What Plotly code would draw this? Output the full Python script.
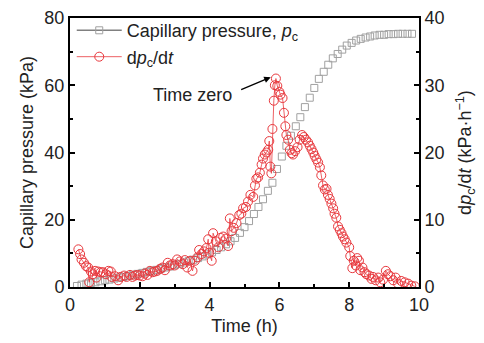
import plotly.graph_objects as go

# Capillary pressure (kPa), left axis
pc_time = [0.20, 0.33, 0.47, 0.60, 0.73, 0.87, 1.00, 1.13, 1.27, 1.40, 1.53, 1.67, 1.80, 1.93,
           2.07, 2.20, 2.33, 2.47, 2.60, 2.73, 2.87, 3.00, 3.13, 3.27, 3.40, 3.53, 3.67, 3.80,
           3.93, 4.07, 4.20, 4.33, 4.47, 4.60, 4.73, 4.87, 5.00, 5.13, 5.27, 5.40, 5.53, 5.67,
           5.80, 5.93, 6.07, 6.20, 6.33, 6.47, 6.60, 6.73, 6.87, 7.00, 7.13, 7.27, 7.40, 7.53,
           7.67, 7.80, 7.93, 8.07, 8.20, 8.33, 8.47, 8.60, 8.73, 8.87, 9.00, 9.13, 9.27, 9.40,
           9.53, 9.67, 9.80]
pc_value = [0.3, 0.7, 1.0, 1.2, 1.4, 1.7, 2.0, 2.2, 2.5, 2.8, 3.0, 3.3, 3.6, 3.9,
            4.2, 4.5, 4.8, 5.1, 5.4, 5.8, 6.1, 6.5, 6.9, 7.3, 7.7, 8.1, 8.6, 9.1,
            9.7, 10.3, 11.0, 11.8, 12.7, 13.6, 14.6, 16.1, 17.8, 19.6, 21.7, 23.8, 26.1, 28.6,
            31.0, 35.1, 38.8, 42.0, 45.0, 47.8, 50.5, 53.5, 56.3, 59.2, 61.9, 64.0, 66.1, 68.0,
            69.3, 70.6, 71.8, 72.6, 73.3, 73.8, 74.2, 74.5, 74.8, 75.0, 75.0, 75.2, 75.2, 75.3,
            75.3, 75.3, 75.3]

# dpc/dt (kPa/h), right axis
rate_time = [0.24, 0.29, 0.33, 0.40, 0.46, 0.52, 0.55, 0.60, 0.65, 0.72, 0.76, 0.81, 0.88, 0.95,
             1.03, 1.10, 1.17, 1.19, 1.29, 1.38, 1.45, 1.55, 1.62, 1.72, 1.79, 1.86, 1.93, 2.00,
             2.08, 2.15, 2.22, 2.29, 2.37, 2.43, 2.50, 2.58, 2.65, 2.72, 2.80, 2.86, 2.94, 3.00,
             3.07, 3.15, 3.23, 3.29, 3.36, 3.44, 3.51, 3.58, 3.65, 3.70, 3.77, 3.84, 3.91, 3.96,
             3.99, 4.06, 4.10, 4.18, 4.25, 4.31, 4.39, 4.47, 4.53, 4.58, 4.63, 4.69, 4.77, 4.85,
             4.91, 4.96, 5.04, 5.10, 5.17, 5.25, 5.30, 5.34, 5.39, 5.44, 5.49, 5.53, 5.58, 5.63,
             5.68, 5.71, 5.74, 5.77, 5.80, 5.84, 5.87, 5.90, 5.94, 6.00, 6.03, 6.09, 6.13, 6.17,
             6.20, 6.25, 6.30, 6.35, 6.39, 6.45, 6.52, 6.58, 6.65, 6.70, 6.76, 6.82, 6.87, 6.92,
             6.97, 7.01, 7.06, 7.11, 7.16, 7.20, 7.25, 7.30, 7.35, 7.39, 7.44, 7.49, 7.54, 7.58,
             7.63, 7.68, 7.73, 7.78, 7.82, 7.87, 7.92, 8.00, 8.03, 8.09, 8.13, 8.19, 8.23, 8.28,
             8.32, 8.38, 8.44, 8.49, 8.57, 8.64, 8.68, 8.76, 8.83, 8.89, 8.97, 9.05, 9.11, 9.18,
             9.26, 9.33, 9.40, 9.49, 9.59, 9.69, 9.78, 9.88]
rate_value = [5.6, 4.9, 4.1, 3.6, 3.1, 2.9, 0.7, 2.3, 1.9, 2.4, 1.4, 2.3, 2.2, 2.2,
              1.9, 2.4, 2.3, 1.5, 1.6, 1.0, 1.5, 1.7, 1.5, 1.8, 1.5, 1.7, 1.8, 1.7,
              1.6, 2.0, 1.8, 2.4, 2.2, 2.3, 2.4, 2.7, 2.9, 2.5, 3.6, 3.2, 3.4, 3.2,
              4.1, 3.8, 3.4, 4.0, 2.9, 3.9, 2.4, 3.9, 4.4, 5.5, 4.9, 5.3, 5.8, 7.1,
              5.1, 3.9, 8.0, 6.8, 5.9, 7.3, 7.5, 7.2, 6.1, 10.2, 8.3, 8.8, 9.5, 10.7,
              10.9, 11.7, 11.9, 12.7, 13.7, 13.4, 15.1, 16.1, 16.3, 17.0, 18.2, 19.1, 19.7, 20.0,
              20.4, 21.7, 17.9, 16.9, 23.5, 27.7, 30.0, 31.0, 29.9, 29.0, 28.6, 28.1, 25.9, 23.9,
              22.6, 21.9, 20.4, 19.9, 19.7, 20.2, 20.8, 21.9, 22.6, 22.3, 21.9, 21.5, 21.0, 20.5,
              20.0, 19.5, 19.0, 18.5, 17.8, 16.6, 15.1, 14.5, 14.6, 13.7, 13.1, 12.4, 11.7, 10.9,
              10.3, 9.0, 8.5, 8.0, 7.5, 7.1, 6.6, 5.9, 4.6, 2.8, 3.9, 3.2, 4.3, 3.9,
              2.5, 2.9, 2.2, 1.9, 1.7, 1.2, 1.5, 1.0, 1.4, 0.7, 1.1, 2.4, 1.9, 1.6,
              1.0, 1.4, 0.5, 0.9, 0.7, 0.5, 0.2, 0.1]

x_ticks = [0, 2, 4, 6, 8, 10]
left_ticks = [0, 20, 40, 60, 80]
right_ticks = [0, 10, 20, 30, 40]

GRAY = "#a0a0a0"
RED = "#e8383d"
FONT = "Liberation Sans, Arial, sans-serif"
TXT = "#222222"

fig = go.Figure()
# gray squares drawn as markers only; legend entry (line + square) via a legend-only trace
fig.add_trace(go.Scatter(
    x=pc_time, y=pc_value, mode="markers", showlegend=False,
    marker=dict(symbol="square-open", size=7, color=GRAY, line=dict(width=1, color=GRAY)),
    yaxis="y",
))
fig.add_trace(go.Scatter(
    x=[None], y=[None], mode="lines+markers",
    name="Capillary pressure, <i>p</i><sub>c</sub>",
    line=dict(color="#808080", width=1.5),
    marker=dict(symbol="square-open", size=7, color=GRAY, line=dict(width=1, color=GRAY)),
    yaxis="y",
))
fig.add_trace(go.Scatter(
    x=rate_time, y=rate_value, mode="lines+markers",
    name="d<i>p</i><sub>c</sub>/d<i>t</i>",
    line=dict(color=RED, width=0.8),
    marker=dict(symbol="circle-open", size=9, color=RED, line=dict(width=1, color=RED)),
    yaxis="y2",
))

axis_common = dict(
    showline=True, linecolor="black", linewidth=2,
    ticks="inside", ticklen=5, tickwidth=2, tickcolor="black",
    showgrid=False, zeroline=False, automargin=False,
    tickfont=dict(family=FONT, size=18, color=TXT),
)
minor_common = dict(ticks="inside", ticklen=3, tickwidth=2, tickcolor="black")

fig.update_layout(
    width=484, height=343,
    margin=dict(l=70, r=65, t=13, b=56),
    paper_bgcolor="white", plot_bgcolor="white",
    font=dict(family=FONT, size=18, color=TXT),
    showlegend=True,
    legend=dict(x=0.005, y=1.022, xanchor="left", yanchor="top",
                bgcolor="rgba(0,0,0,0)", font=dict(family=FONT, size=18, color=TXT),
                tracegroupgap=0, itemwidth=45),
    xaxis=dict(range=[0, 10], tickvals=x_ticks, mirror=True,
               minor=dict(dtick=1, **minor_common),
               title=dict(text="Time (h)", font=dict(family=FONT, size=18, color=TXT), standoff=6),
               **axis_common),
    yaxis=dict(range=[0, 80], tickvals=left_ticks, mirror=True,
               minor=dict(dtick=10, **minor_common),
               title=dict(text="Capillary pressure (kPa)", font=dict(family=FONT, size=18, color=TXT), standoff=6),
               **axis_common),
    yaxis2=dict(range=[0, 40], tickvals=right_ticks, overlaying="y", side="right",
                minor=dict(dtick=5, **minor_common),
                title=dict(text="d<i>p</i><sub>c</sub>/d<i>t</i> (kPa·h<sup>−1</sup>)",
                           font=dict(family=FONT, size=18, color=TXT), standoff=15),
                **axis_common),
    annotations=[
        dict(x=5.75, y=31.2, xref="x", yref="y2", text="", showarrow=True,
             arrowhead=2, arrowsize=1, arrowwidth=1.3, arrowcolor="black",
             ax=-31, ay=13),
        dict(x=4.7, y=57.2, xref="x", yref="y", text="Time zero", showarrow=False,
             font=dict(family=FONT, size=18, color=TXT), xanchor="right", yanchor="middle"),
    ],
)

fig.write_html("out.html", config={"displayModeBar": False},
               post_script="document.body.style.margin='0px';")
